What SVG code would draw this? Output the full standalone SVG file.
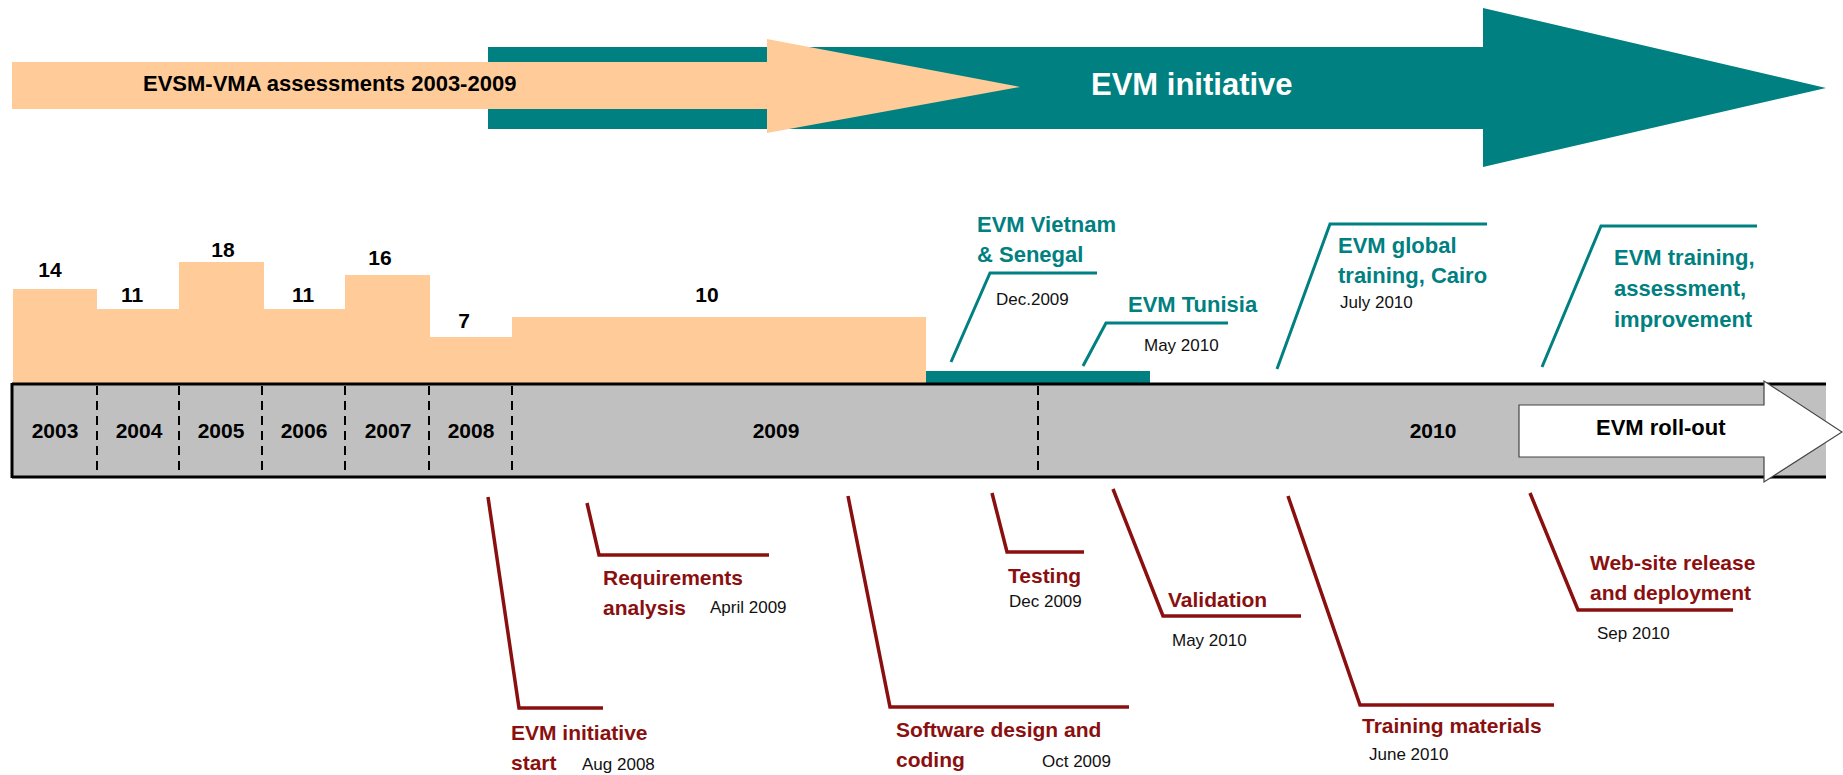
<svg xmlns="http://www.w3.org/2000/svg" width="1843" height="775" viewBox="0 0 1843 775">
<style>
.b{font-family:"Liberation Sans",Arial,sans-serif;font-weight:bold}
.r{font-family:"Liberation Sans",Arial,sans-serif;font-weight:normal;font-size:17px;fill:#111}
.num{font-size:21px;fill:#000;text-anchor:middle}
.yr{font-size:21px;fill:#000;text-anchor:middle}
.tl{font-size:22px;fill:#008080}
.rl{font-size:21px;fill:#8A1010}
.bar{fill:#FFCC99}
.dash{stroke:#000;stroke-width:2;stroke-dasharray:9,6}
.tlk{fill:none;stroke:#008080;stroke-width:3}
.rlk{fill:none;stroke:#8A1010;stroke-width:3.5}
</style>
<rect width="1843" height="775" fill="#fff"/>

<g id="evm-initiative-arrow">
<polygon points="488,47 1483,47 1483,8 1826,88 1483,167 1483,129 488,129" fill="#008080"/>
<text class="b" x="1091" y="95" font-size="31" fill="#fff">EVM initiative</text>
</g>
<g id="evsm-arrow">
<polygon points="12,62 767,62 767,39 1020,87 767,133 767,109 12,109" fill="#FFCC99"/>
<text class="b" x="143" y="91" font-size="22" fill="#000">EVSM-VMA assessments 2003-2009</text>
</g>

<g id="bars">
<rect class="bar" x="13" y="289" width="84" height="95"/>
<rect class="bar" x="97" y="309" width="82" height="75"/>
<rect class="bar" x="179" y="262" width="85" height="122"/>
<rect class="bar" x="264" y="309" width="81" height="75"/>
<rect class="bar" x="345" y="275" width="85" height="109"/>
<rect class="bar" x="430" y="337" width="82" height="47"/>
<rect class="bar" x="512" y="317" width="414" height="67"/>
<rect x="926" y="371" width="224" height="13" fill="#008080"/>
<text class="b num" x="50" y="277">14</text>
<text class="b num" x="132" y="302">11</text>
<text class="b num" x="223" y="257">18</text>
<text class="b num" x="303" y="302">11</text>
<text class="b num" x="380" y="265">16</text>
<text class="b num" x="464" y="328">7</text>
<text class="b num" x="707" y="302">10</text>
</g>

<g id="timeline">
<rect x="12" y="384" width="1814" height="93" fill="#C0C0C0"/>
<line x1="12" y1="384" x2="1826" y2="384" stroke="#000" stroke-width="3"/>
<line x1="12" y1="477" x2="1826" y2="477" stroke="#000" stroke-width="3"/>
<line x1="12" y1="383" x2="12" y2="478" stroke="#000" stroke-width="3"/>
<line class="dash" x1="97" y1="386" x2="97" y2="476"/>
<line class="dash" x1="179" y1="386" x2="179" y2="476"/>
<line class="dash" x1="262" y1="386" x2="262" y2="476"/>
<line class="dash" x1="345" y1="386" x2="345" y2="476"/>
<line class="dash" x1="429" y1="386" x2="429" y2="476"/>
<line class="dash" x1="512" y1="386" x2="512" y2="476"/>
<line class="dash" x1="1038" y1="386" x2="1038" y2="476"/>
<text class="b yr" x="55" y="438">2003</text>
<text class="b yr" x="139" y="438">2004</text>
<text class="b yr" x="221" y="438">2005</text>
<text class="b yr" x="304" y="438">2006</text>
<text class="b yr" x="388" y="438">2007</text>
<text class="b yr" x="471" y="438">2008</text>
<text class="b yr" x="776" y="438">2009</text>
<text class="b yr" x="1433" y="438">2010</text>
</g>

<g id="rollout">
<polygon points="1519,405 1764,405 1764,381 1842,432 1764,482 1764,457 1519,457" fill="#fff" stroke="#444" stroke-width="1.2"/>
<text class="b" x="1596" y="435" font-size="22" fill="#000">EVM roll-out</text>
</g>

<g id="connectors">
<polyline class="tlk" points="951,362 990,273 1097,273"/>
<polyline class="tlk" points="1083,366 1106,323 1228,323"/>
<polyline class="tlk" points="1277,369 1330,224 1487,224"/>
<polyline class="tlk" points="1542,367 1601,226 1757,226"/>
<polyline class="rlk" points="488,497 519,708 603,708"/>
<polyline class="rlk" points="587,503 599,555 769,555"/>
<polyline class="rlk" points="848,496 890,707 1129,707"/>
<polyline class="rlk" points="992,493 1007,552 1084,552"/>
<polyline class="rlk" points="1113,489 1163,616 1301,616"/>
<polyline class="rlk" points="1288,496 1360,705 1554,705"/>
<polyline class="rlk" points="1530,493 1578,610 1733,610"/>
</g>

<g id="n-vietnam">
<text class="b tl" x="977" y="232">EVM Vietnam</text>
<text class="b tl" x="977" y="262">&amp; Senegal</text>
<text class="r" x="996" y="305">Dec.2009</text>
</g>
<g id="n-tunisia">
<text class="b tl" x="1128" y="312">EVM Tunisia</text>
<text class="r" x="1144" y="351">May 2010</text>
</g>
<g id="n-cairo">
<text class="b tl" x="1338" y="253">EVM global</text>
<text class="b tl" x="1338" y="283">training, Cairo</text>
<text class="r" x="1340" y="308">July 2010</text>
</g>
<g id="n-training">
<text class="b tl" x="1614" y="265">EVM training,</text>
<text class="b tl" x="1614" y="296">assessment,</text>
<text class="b tl" x="1614" y="327">improvement</text>
</g>

<g id="n-start">
<text class="b rl" x="511" y="740">EVM initiative</text>
<text class="b rl" x="511" y="770">start</text>
<text class="r" x="582" y="770">Aug 2008</text>
</g>
<g id="n-requirements">
<text class="b rl" x="603" y="585">Requirements</text>
<text class="b rl" x="603" y="615">analysis</text>
<text class="r" x="710" y="613">April 2009</text>
</g>
<g id="n-software">
<text class="b rl" x="896" y="737">Software design and</text>
<text class="b rl" x="896" y="767">coding</text>
<text class="r" x="1042" y="767">Oct 2009</text>
</g>
<g id="n-testing">
<text class="b rl" x="1008" y="583">Testing</text>
<text class="r" x="1009" y="607">Dec 2009</text>
</g>
<g id="n-validation">
<text class="b rl" x="1168" y="607">Validation</text>
<text class="r" x="1172" y="646">May 2010</text>
</g>
<g id="n-materials">
<text class="b rl" x="1362" y="733">Training materials</text>
<text class="r" x="1369" y="760">June 2010</text>
</g>
<g id="n-website">
<text class="b rl" x="1590" y="570">Web-site release</text>
<text class="b rl" x="1590" y="600">and deployment</text>
<text class="r" x="1597" y="639">Sep 2010</text>
</g>
</svg>
